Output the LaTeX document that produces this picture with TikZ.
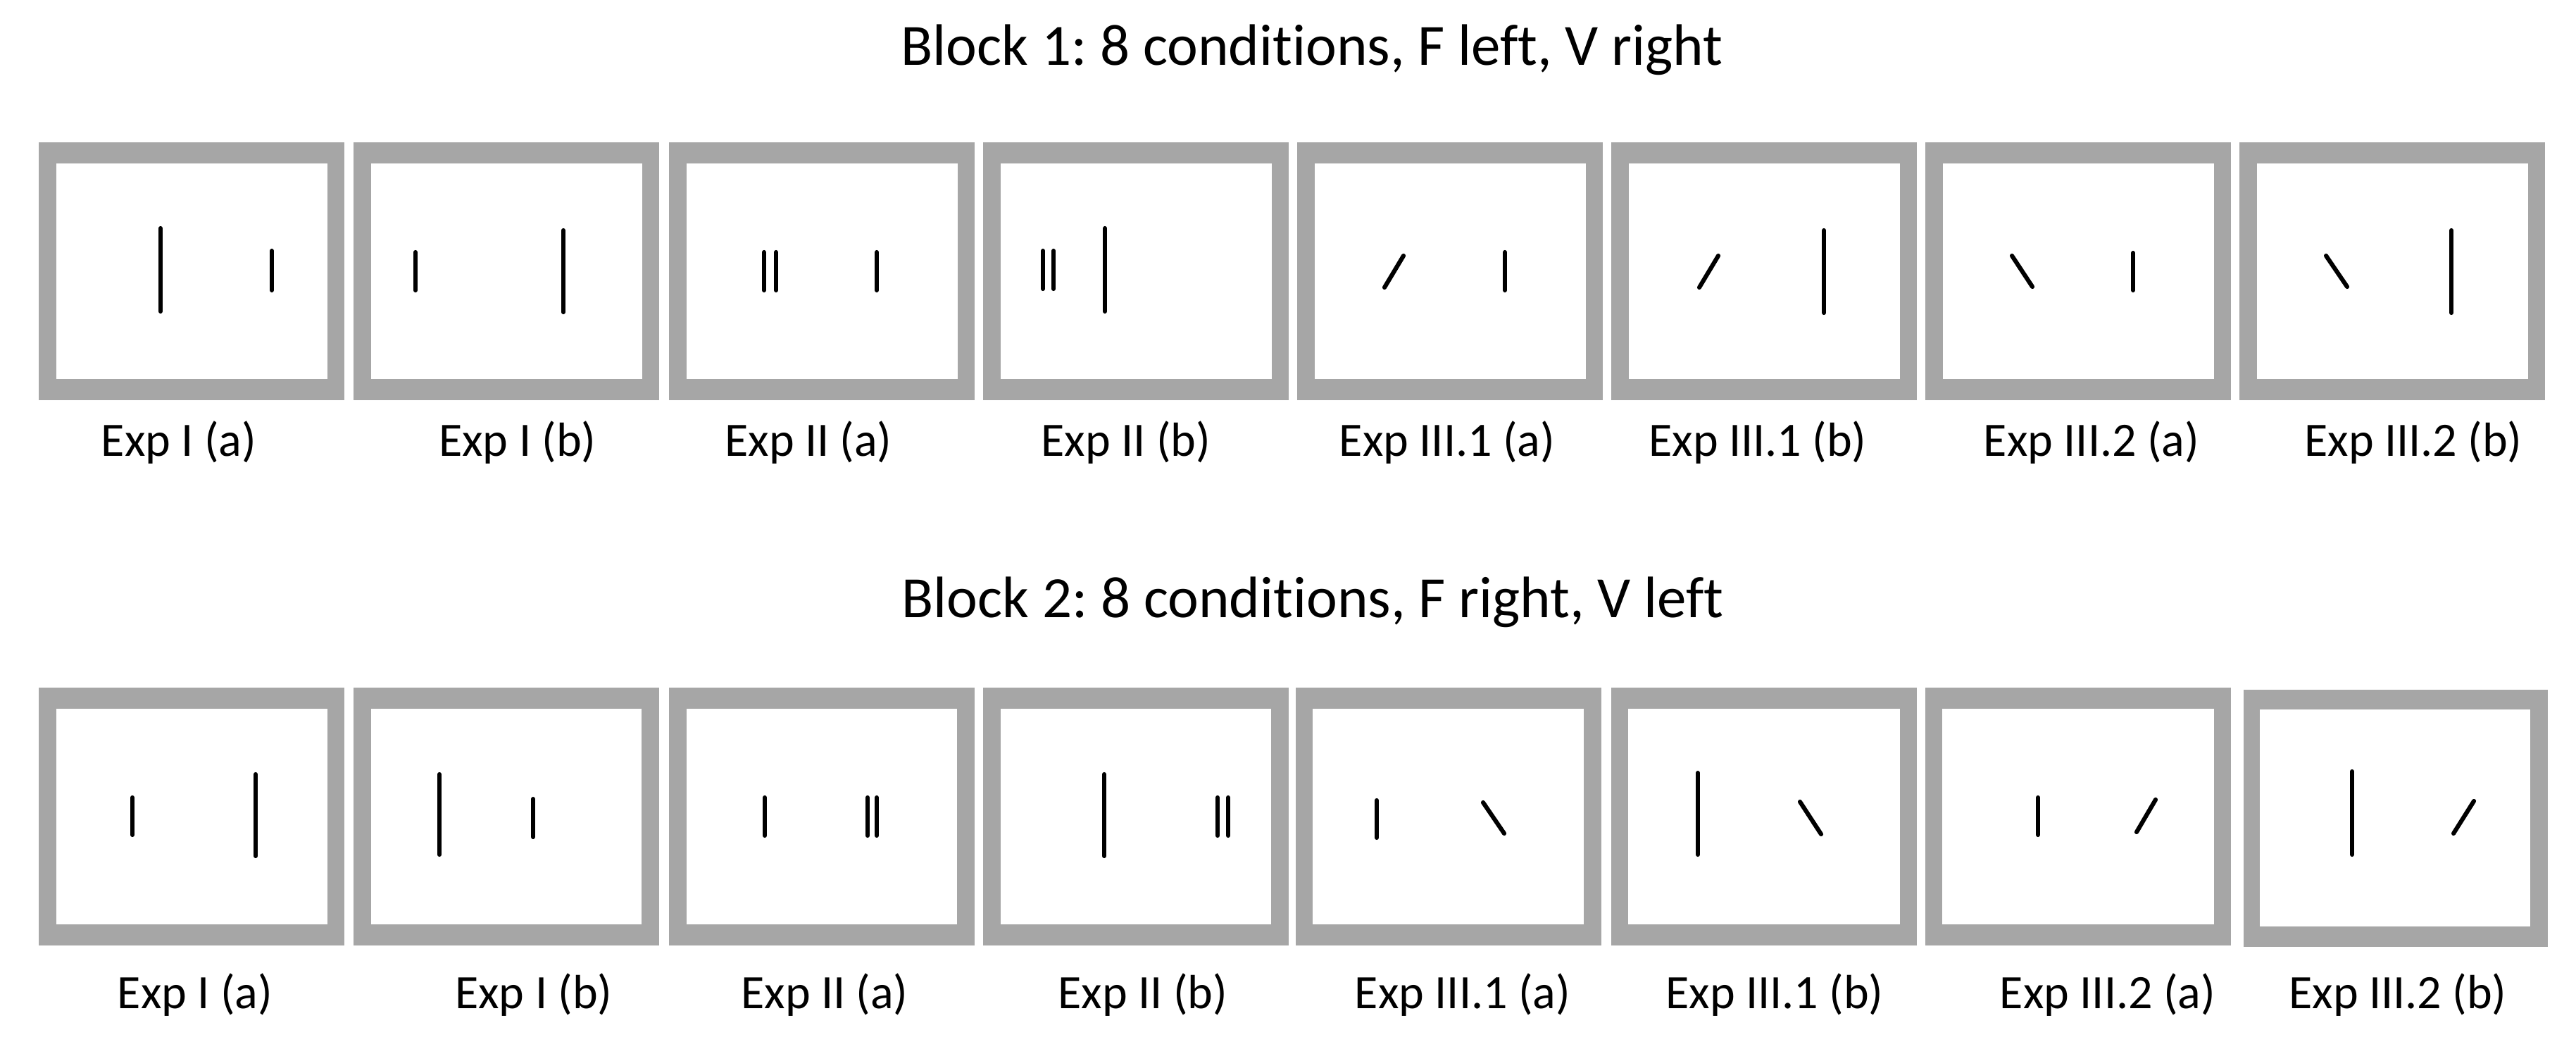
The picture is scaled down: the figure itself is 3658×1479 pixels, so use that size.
\documentclass[tikz,border=0pt]{standalone}
\usepackage{fontspec}
\setmainfont{Carlito}[Ligatures=NoCommon]
\usepackage{xcolor}
\usepackage{tikz}
\frenchspacing

\definecolor{framegray}{HTML}{A6A6A6}
\newcommand{\titlefont}{\fontsize{23.6}{28}\selectfont}
\newcommand{\labfont}{\fontsize{19.35}{23}\selectfont}

\tikzset{
  frame/.style={fill=framegray, draw=none},
  screen/.style={fill=white, draw=none},
  bar/.style={line width=1.75pt, line cap=round},
  cond/.style={anchor=base, inner sep=0pt, font=\labfont},
  blocktitle/.style={anchor=base, inner sep=0pt, font=\titlefont}
}

\begin{document}
\begin{tikzpicture}[x=0.01cm, y=-0.01cm]
            \useasboundingbox (0,0) rectangle (3658,1479);

            % block 1
            \node[blocktitle] (block1) at (1863,93) {Block 1: 8 conditions, F left, V right};

            \draw[frame] (55,202) rectangle (489,568);
            \draw[screen] (80,232) rectangle (465,538);
            \draw[frame] (502,202) rectangle (936,568);
            \draw[screen] (527,232) rectangle (912,538);
            \draw[frame] (950,202) rectangle (1384,568);
            \draw[screen] (975,232) rectangle (1360,538);
            \draw[frame] (1396,202) rectangle (1830,568);
            \draw[screen] (1421,232) rectangle (1806,538);
            \draw[frame] (1842,202) rectangle (2276,568);
            \draw[screen] (1867,232) rectangle (2252,538);
            \draw[frame] (2288,202) rectangle (2722,568);
            \draw[screen] (2313,232) rectangle (2698,538);
            \draw[frame] (2734,202) rectangle (3168,568);
            \draw[screen] (2759,232) rectangle (3144,538);
            \draw[frame] (3180,202) rectangle (3614,568);
            \draw[screen] (3205,232) rectangle (3590,538);

            \draw[bar] (228,324) -- (228,442); % long
            \draw[bar] (386,356) -- (386,412); % short
            \draw[bar] (590,358) -- (590,412);
            \draw[bar] (800,327) -- (800,443);
            \draw[bar] (1085,358) -- (1085,412); % double
            \draw[bar] (1102,358) -- (1102,412);
            \draw[bar] (1245,358) -- (1245,412);
            \draw[bar] (1481,356) -- (1481,410); % double
            \draw[bar] (1496,356) -- (1496,410);
            \draw[bar] (1569,324) -- (1569,442);
            \draw[bar] (1966,408) -- (1993,363); % tilted
            \draw[bar] (2137,358) -- (2137,412);
            \draw[bar] (2413,408) -- (2440,363); % tilted
            \draw[bar] (2590,327) -- (2590,444);
            \draw[bar] (2857,363) -- (2886,407); % tilted
            \draw[bar] (3029,359) -- (3029,412);
            \draw[bar] (3303,363) -- (3333,407); % tilted
            \draw[bar] (3481,327) -- (3481,444);

            \node[cond] (l11) at (254,647) {Exp I (a)};
            \node[cond] (l12) at (735,647) {Exp I (b)};
            \node[cond] (l13) at (1148,647) {Exp II (a)};
            \node[cond] (l14) at (1599,647) {Exp II (b)};
            \node[cond] (l15) at (2055,647) {Exp III.1 (a)};
            \node[cond] (l16) at (2496,647) {Exp III.1 (b)};
            \node[cond] (l17) at (2970,647) {Exp III.2 (a)};
            \node[cond] (l18) at (3427,647) {Exp III.2 (b)};

            % block 2
            \node[blocktitle] (block2) at (1864,876) {Block 2: 8 conditions, F right, V left};

            \draw[frame] (55,976) rectangle (489,1342);
            \draw[screen] (80,1006) rectangle (465,1312);
            \draw[frame] (502,976) rectangle (936,1342);
            \draw[screen] (527,1006) rectangle (911,1312);
            \draw[frame] (950,976) rectangle (1384,1342);
            \draw[screen] (975,1006) rectangle (1359,1312);
            \draw[frame] (1396,976) rectangle (1830,1342);
            \draw[screen] (1421,1006) rectangle (1805,1312);
            \draw[frame] (1840,976) rectangle (2274,1342);
            \draw[screen] (1864,1006) rectangle (2249,1312);
            \draw[frame] (2288,976) rectangle (2722,1342);
            \draw[screen] (2312,1006) rectangle (2698,1312);
            \draw[frame] (2734,976) rectangle (3168,1342);
            \draw[screen] (2758,1006) rectangle (3144,1312);
            \draw[frame] (3186,979) rectangle (3618,1344);
            \draw[screen] (3209,1007) rectangle (3593,1315);

            \draw[bar] (188,1132) -- (188,1185); % short
            \draw[bar] (363,1099) -- (363,1215); % long
            \draw[bar] (624,1099) -- (624,1213);
            \draw[bar] (757,1134) -- (757,1188);
            \draw[bar] (1086,1132) -- (1086,1186);
            \draw[bar] (1232,1132) -- (1232,1186); % double
            \draw[bar] (1245,1132) -- (1245,1186);
            \draw[bar] (1568,1099) -- (1568,1215);
            \draw[bar] (1729,1132) -- (1729,1186); % double
            \draw[bar] (1744,1132) -- (1744,1186);
            \draw[bar] (1955,1136) -- (1955,1189);
            \draw[bar] (2106,1139) -- (2136,1183); % tilted
            \draw[bar] (2411,1097) -- (2411,1213);
            \draw[bar] (2556,1138) -- (2586,1184); % tilted
            \draw[bar] (2894,1132) -- (2894,1185);
            \draw[bar] (3034,1181) -- (3061,1135); % tilted
            \draw[bar] (3340,1095) -- (3340,1213);
            \draw[bar] (3484,1183) -- (3513,1137); % tilted

            \node[cond] (l21) at (277,1431) {Exp I (a)};
            \node[cond] (l22) at (758,1431) {Exp I (b)};
            \node[cond] (l23) at (1171,1431) {Exp II (a)};
            \node[cond] (l24) at (1623,1431) {Exp II (b)};
            \node[cond] (l25) at (2077,1431) {Exp III.1 (a)};
            \node[cond] (l26) at (2520,1431) {Exp III.1 (b)};
            \node[cond] (l27) at (2993,1431) {Exp III.2 (a)};
            \node[cond] (l28) at (3405,1431) {Exp III.2 (b)};
        \end{tikzpicture}
\end{document}
